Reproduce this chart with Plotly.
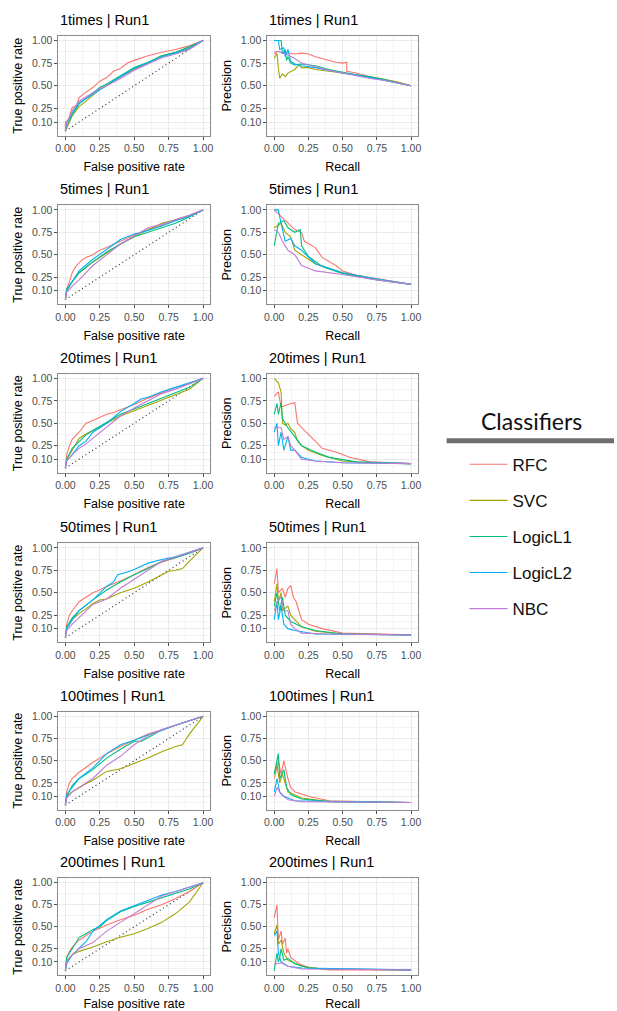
import plotly.graph_objects as go

W, H = 617, 1011

CLASSIFIERS = ["RFC", "SVC", "LogicL1", "LogicL2", "NBC"]
COLORS = ["#F8766D", "#A3A500", "#00BF7D", "#00B0F6", "#C07CD6"]
PANEL_TITLES = ["1times | Run1", "5times | Run1", "20times | Run1",
                "50times | Run1", "100times | Run1", "200times | Run1"]

TICK_VALS = [0, 0.25, 0.5, 0.75, 1.0]
TICK_TEXT = ["0.00", "0.25", "0.50", "0.75", "1.00"]
Y_TICK_VALS = [0.10, 0.25, 0.5, 0.75, 1.0]
Y_TICK_TEXT = ["0.10", "0.25", "0.50", "0.75", "1.00"]
X_MINOR = [0.125, 0.375, 0.625, 0.875]
Y_MINOR = [0.025, 0.175, 0.375, 0.625, 0.875]

# ---- ROC curves: (false positive rate, true positive rate) ----
ROC_1 = {
    "RFC": ([0, 0, 0.02, 0.05, 0.08, 0.1, 0.15, 0.2, 0.25, 0.3, 0.35, 0.4, 0.45, 0.5, 0.6, 0.7, 0.8, 0.9, 1],
            [0, 0.1, 0.12, 0.26, 0.28, 0.37, 0.43, 0.48, 0.55, 0.59, 0.66, 0.69, 0.75, 0.78, 0.83, 0.87, 0.9, 0.94, 1]),
    "SVC": ([0, 0.01, 0.03, 0.05, 0.1, 0.15, 0.2, 0.25, 0.3, 0.4, 0.5, 0.6, 0.7, 0.8, 0.9, 1],
            [0, 0.03, 0.1, 0.17, 0.27, 0.33, 0.4, 0.46, 0.5, 0.6, 0.68, 0.75, 0.83, 0.87, 0.92, 1]),
    "LogicL1": ([0, 0.01, 0.03, 0.05, 0.1, 0.15, 0.2, 0.25, 0.3, 0.4, 0.5, 0.6, 0.7, 0.8, 0.9, 1],
                [0, 0.06, 0.12, 0.18, 0.3, 0.36, 0.42, 0.48, 0.52, 0.61, 0.7, 0.76, 0.83, 0.87, 0.93, 1]),
    "LogicL2": ([0, 0.01, 0.03, 0.05, 0.1, 0.15, 0.2, 0.25, 0.3, 0.4, 0.5, 0.6, 0.7, 0.8, 0.9, 1],
                [0, 0.1, 0.14, 0.2, 0.31, 0.36, 0.41, 0.46, 0.51, 0.6, 0.69, 0.75, 0.82, 0.86, 0.91, 1]),
    "NBC": ([0, 0.01, 0.03, 0.05, 0.1, 0.15, 0.2, 0.25, 0.3, 0.4, 0.5, 0.6, 0.7, 0.8, 0.9, 1],
            [0, 0.1, 0.15, 0.22, 0.33, 0.38, 0.42, 0.47, 0.5, 0.58, 0.67, 0.74, 0.81, 0.85, 0.9, 1]),
}
ROC_5 = {
    "RFC": ([0, 0.01, 0.03, 0.05, 0.08, 0.12, 0.15, 0.2, 0.25, 0.3, 0.4, 0.5, 0.6, 0.7, 0.8, 0.9, 1],
            [0, 0.12, 0.2, 0.3, 0.38, 0.44, 0.47, 0.5, 0.55, 0.58, 0.65, 0.72, 0.78, 0.83, 0.89, 0.94, 1]),
    "SVC": ([0, 0.01, 0.05, 0.1, 0.2, 0.3, 0.4, 0.5, 0.6, 0.7, 0.8, 0.9, 1],
            [0, 0.1, 0.2, 0.3, 0.42, 0.52, 0.62, 0.7, 0.78, 0.85, 0.89, 0.93, 1]),
    "LogicL1": ([0, 0.01, 0.05, 0.1, 0.2, 0.3, 0.4, 0.5, 0.6, 0.7, 0.8, 0.9, 1],
                [0, 0.12, 0.2, 0.3, 0.42, 0.53, 0.62, 0.7, 0.75, 0.8, 0.85, 0.92, 1]),
    "LogicL2": ([0, 0.01, 0.05, 0.1, 0.2, 0.3, 0.4, 0.5, 0.6, 0.7, 0.8, 0.9, 1],
                [0, 0.1, 0.2, 0.32, 0.45, 0.56, 0.67, 0.73, 0.77, 0.82, 0.88, 0.93, 1]),
    "NBC": ([0, 0.01, 0.05, 0.1, 0.2, 0.3, 0.4, 0.5, 0.6, 0.7, 0.8, 0.9, 1],
            [0, 0.08, 0.15, 0.22, 0.38, 0.5, 0.62, 0.71, 0.8, 0.84, 0.89, 0.94, 1]),
}
ROC_20 = {
    "RFC": ([0, 0.01, 0.03, 0.05, 0.1, 0.15, 0.2, 0.3, 0.35, 0.4, 0.5, 0.6, 0.7, 0.8, 0.9, 1],
            [0, 0.15, 0.25, 0.32, 0.4, 0.5, 0.53, 0.6, 0.62, 0.65, 0.71, 0.78, 0.84, 0.9, 0.94, 1]),
    "SVC": ([0, 0.01, 0.05, 0.1, 0.15, 0.2, 0.3, 0.4, 0.5, 0.6, 0.7, 0.8, 0.9, 1],
            [0, 0.1, 0.2, 0.33, 0.38, 0.42, 0.5, 0.58, 0.64, 0.7, 0.76, 0.82, 0.88, 1]),
    "LogicL1": ([0, 0.01, 0.05, 0.1, 0.15, 0.2, 0.3, 0.4, 0.5, 0.6, 0.7, 0.8, 0.9, 1],
                [0, 0.1, 0.22, 0.3, 0.37, 0.42, 0.51, 0.6, 0.66, 0.72, 0.78, 0.84, 0.9, 1]),
    "LogicL2": ([0, 0.01, 0.05, 0.1, 0.15, 0.2, 0.3, 0.4, 0.5, 0.55, 0.6, 0.7, 0.8, 0.9, 1],
                [0, 0.08, 0.15, 0.25, 0.3, 0.4, 0.5, 0.63, 0.72, 0.77, 0.79, 0.85, 0.9, 0.95, 1]),
    "NBC": ([0, 0.01, 0.05, 0.1, 0.15, 0.2, 0.3, 0.4, 0.5, 0.6, 0.7, 0.8, 0.9, 1],
            [0, 0.08, 0.15, 0.22, 0.27, 0.33, 0.45, 0.58, 0.67, 0.75, 0.83, 0.88, 0.94, 1]),
}
ROC_50 = {
    "RFC": ([0, 0.01, 0.03, 0.05, 0.1, 0.15, 0.2, 0.25, 0.3, 0.4, 0.5, 0.6, 0.7, 0.8, 0.9, 1],
            [0, 0.15, 0.25, 0.3, 0.4, 0.45, 0.5, 0.53, 0.57, 0.63, 0.7, 0.78, 0.84, 0.89, 0.94, 1]),
    "SVC": ([0, 0.01, 0.05, 0.1, 0.15, 0.2, 0.25, 0.3, 0.4, 0.5, 0.6, 0.7, 0.75, 0.8, 0.85, 0.9, 1],
            [0, 0.1, 0.2, 0.27, 0.32, 0.38, 0.42, 0.43, 0.5, 0.55, 0.62, 0.7, 0.74, 0.75, 0.77, 0.85, 1]),
    "LogicL1": ([0, 0.01, 0.05, 0.1, 0.2, 0.3, 0.4, 0.5, 0.6, 0.7, 0.8, 0.9, 1],
                [0, 0.12, 0.22, 0.3, 0.42, 0.53, 0.62, 0.7, 0.77, 0.85, 0.89, 0.94, 1]),
    "LogicL2": ([0, 0.01, 0.05, 0.1, 0.2, 0.3, 0.35, 0.38, 0.45, 0.5, 0.6, 0.7, 0.8, 0.9, 1],
                [0, 0.1, 0.2, 0.3, 0.42, 0.57, 0.62, 0.7, 0.73, 0.76, 0.83, 0.87, 0.9, 0.95, 1]),
    "NBC": ([0, 0.01, 0.05, 0.1, 0.2, 0.3, 0.4, 0.5, 0.6, 0.7, 0.8, 0.9, 1],
            [0, 0.08, 0.15, 0.22, 0.37, 0.43, 0.55, 0.65, 0.75, 0.85, 0.9, 0.95, 1]),
}
ROC_100 = {
    "RFC": ([0, 0.01, 0.03, 0.05, 0.1, 0.15, 0.2, 0.3, 0.4, 0.5, 0.6, 0.7, 0.8, 0.9, 1],
            [0, 0.15, 0.25, 0.3, 0.37, 0.43, 0.48, 0.58, 0.66, 0.73, 0.8, 0.85, 0.9, 0.95, 1]),
    "SVC": ([0, 0.01, 0.05, 0.1, 0.15, 0.2, 0.25, 0.3, 0.4, 0.5, 0.6, 0.7, 0.8, 0.85, 0.9, 1],
            [0, 0.1, 0.15, 0.2, 0.24, 0.28, 0.33, 0.38, 0.41, 0.47, 0.53, 0.6, 0.66, 0.68, 0.8, 1]),
    "LogicL1": ([0, 0.01, 0.05, 0.1, 0.2, 0.3, 0.4, 0.5, 0.55, 0.6, 0.7, 0.8, 0.9, 1],
                [0, 0.1, 0.22, 0.3, 0.4, 0.53, 0.63, 0.72, 0.72, 0.76, 0.85, 0.9, 0.95, 1]),
    "LogicL2": ([0, 0.01, 0.05, 0.1, 0.2, 0.3, 0.4, 0.5, 0.6, 0.7, 0.8, 0.9, 1],
                [0, 0.12, 0.2, 0.3, 0.42, 0.58, 0.68, 0.73, 0.79, 0.84, 0.9, 0.95, 1]),
    "NBC": ([0, 0.01, 0.05, 0.1, 0.2, 0.3, 0.4, 0.5, 0.6, 0.7, 0.8, 0.9, 1],
            [0, 0.08, 0.15, 0.2, 0.3, 0.45, 0.55, 0.68, 0.78, 0.85, 0.9, 0.95, 1]),
}
ROC_200 = {
    "RFC": ([0, 0.01, 0.03, 0.05, 0.1, 0.2, 0.3, 0.4, 0.5, 0.6, 0.7, 0.8, 0.9, 1],
            [0, 0.15, 0.22, 0.27, 0.35, 0.45, 0.52, 0.58, 0.63, 0.7, 0.75, 0.82, 0.9, 1]),
    "SVC": ([0, 0.01, 0.05, 0.1, 0.2, 0.3, 0.4, 0.5, 0.6, 0.7, 0.8, 0.9, 1],
            [0, 0.12, 0.18, 0.22, 0.27, 0.33, 0.38, 0.42, 0.48, 0.55, 0.65, 0.78, 1]),
    "LogicL1": ([0, 0.01, 0.05, 0.1, 0.15, 0.2, 0.25, 0.3, 0.4, 0.5, 0.6, 0.7, 0.8, 0.9, 1],
                [0, 0.15, 0.25, 0.38, 0.42, 0.47, 0.5, 0.57, 0.67, 0.73, 0.78, 0.83, 0.88, 0.93, 1]),
    "LogicL2": ([0, 0.01, 0.05, 0.1, 0.15, 0.2, 0.25, 0.3, 0.4, 0.5, 0.6, 0.7, 0.8, 0.9, 1],
                [0, 0.08, 0.18, 0.25, 0.33, 0.45, 0.52, 0.58, 0.68, 0.74, 0.8, 0.86, 0.9, 0.95, 1]),
    "NBC": ([0, 0.01, 0.05, 0.1, 0.2, 0.3, 0.4, 0.5, 0.6, 0.7, 0.8, 0.9, 1],
            [0, 0.1, 0.18, 0.25, 0.32, 0.45, 0.55, 0.65, 0.75, 0.85, 0.9, 0.95, 1]),
}

# ---- Precision-recall curves: (recall, precision) ----
PR_1 = {
    "RFC": ([0, 0.02, 0.05, 0.1, 0.15, 0.2, 0.25, 0.3, 0.35, 0.4, 0.45, 0.5, 0.53, 0.53, 0.6, 0.7, 0.8, 0.9, 1],
            [0.85, 0.88, 0.87, 0.86, 0.85, 0.86, 0.85, 0.82, 0.8, 0.78, 0.76, 0.75, 0.76, 0.66, 0.64, 0.6, 0.57, 0.54, 0.5]),
    "SVC": ([0, 0.02, 0.03, 0.04, 0.06, 0.08, 0.1, 0.15, 0.18, 0.2, 0.25, 0.3, 0.4, 0.5, 0.6, 0.7, 0.8, 0.9, 1],
            [0.8, 0.86, 0.7, 0.58, 0.63, 0.6, 0.64, 0.68, 0.73, 0.7, 0.7, 0.68, 0.66, 0.64, 0.62, 0.6, 0.57, 0.54, 0.5]),
    "LogicL1": ([0, 0.05, 0.06, 0.08, 0.09, 0.1, 0.12, 0.15, 0.2, 0.3, 0.4, 0.5, 0.6, 0.7, 0.8, 0.9, 1],
                [1.0, 1.0, 0.85, 0.9, 0.78, 0.82, 0.75, 0.73, 0.74, 0.72, 0.68, 0.65, 0.62, 0.6, 0.57, 0.53, 0.5]),
    "LogicL2": ([0, 0.03, 0.04, 0.07, 0.08, 0.1, 0.12, 0.15, 0.2, 0.3, 0.4, 0.5, 0.6, 0.7, 0.8, 0.9, 1],
                [1.0, 1.0, 0.9, 0.92, 0.82, 0.9, 0.77, 0.74, 0.72, 0.7, 0.67, 0.64, 0.62, 0.59, 0.56, 0.53, 0.5]),
    "NBC": ([0, 0.03, 0.06, 0.1, 0.15, 0.2, 0.3, 0.4, 0.5, 0.6, 0.7, 0.8, 0.9, 1],
            [0.87, 0.88, 0.86, 0.84, 0.8, 0.75, 0.71, 0.67, 0.64, 0.61, 0.58, 0.56, 0.53, 0.5]),
}
PR_5 = {
    "RFC": ([0, 0.05, 0.1, 0.15, 0.2, 0.22, 0.3, 0.35, 0.45, 0.5, 0.6, 0.75, 1],
            [1.0, 0.93, 0.85, 0.78, 0.75, 0.65, 0.58, 0.47, 0.38, 0.32, 0.27, 0.23, 0.17]),
    "SVC": ([0, 0.05, 0.08, 0.12, 0.15, 0.2, 0.3, 0.5, 0.75, 1],
            [0.8, 0.85, 0.75, 0.7, 0.55, 0.5, 0.4, 0.3, 0.23, 0.17]),
    "LogicL1": ([0, 0.03, 0.07, 0.1, 0.15, 0.19, 0.2, 0.25, 0.35, 0.5, 0.75, 1],
                [0.6, 0.85, 0.88, 0.8, 0.75, 0.78, 0.6, 0.48, 0.37, 0.29, 0.22, 0.17]),
    "LogicL2": ([0, 0.03, 0.05, 0.08, 0.12, 0.15, 0.2, 0.3, 0.5, 0.75, 1],
                [1.0, 1.0, 0.85, 0.65, 0.68, 0.6, 0.55, 0.4, 0.3, 0.23, 0.17]),
    "NBC": ([0, 0.03, 0.06, 0.1, 0.15, 0.2, 0.3, 0.5, 0.75, 1],
            [0.78, 0.75, 0.65, 0.55, 0.5, 0.38, 0.32, 0.28, 0.22, 0.17]),
}
PR_20 = {
    "RFC": ([0, 0.03, 0.05, 0.08, 0.12, 0.15, 0.16, 0.17, 0.2, 0.25, 0.3, 0.35, 0.45, 0.55, 0.7, 1],
            [0.8, 0.85, 0.68, 0.7, 0.72, 0.73, 0.6, 0.5, 0.45, 0.38, 0.3, 0.22, 0.18, 0.12, 0.07, 0.05]),
    "SVC": ([0, 0.03, 0.05, 0.06, 0.08, 0.1, 0.12, 0.15, 0.17, 0.2, 0.25, 0.35, 0.5, 0.7, 1],
            [1.0, 0.95, 0.85, 0.5, 0.48, 0.5, 0.44, 0.4, 0.3, 0.25, 0.2, 0.14, 0.08, 0.06, 0.05]),
    "LogicL1": ([0, 0.02, 0.03, 0.05, 0.06, 0.1, 0.15, 0.2, 0.3, 0.4, 0.6, 1],
                [0.6, 0.72, 0.6, 0.73, 0.55, 0.45, 0.35, 0.25, 0.18, 0.12, 0.07, 0.05]),
    "LogicL2": ([0, 0.02, 0.03, 0.05, 0.07, 0.1, 0.12, 0.15, 0.2, 0.3, 0.5, 1],
                [0.4, 0.5, 0.25, 0.4, 0.2, 0.35, 0.2, 0.2, 0.12, 0.08, 0.06, 0.05]),
    "NBC": ([0, 0.05, 0.07, 0.1, 0.12, 0.15, 0.2, 0.3, 0.5, 1],
            [0.45, 0.45, 0.32, 0.35, 0.25, 0.2, 0.1, 0.08, 0.06, 0.05]),
}
PR_50 = {
    "RFC": ([0, 0.02, 0.03, 0.06, 0.08, 0.1, 0.12, 0.14, 0.16, 0.18, 0.2, 0.25, 0.35, 0.5, 1],
            [0.6, 0.77, 0.5, 0.55, 0.45, 0.55, 0.58, 0.45, 0.4, 0.3, 0.2, 0.15, 0.1, 0.05, 0.03]),
    "SVC": ([0, 0.02, 0.03, 0.05, 0.06, 0.1, 0.12, 0.15, 0.2, 0.3, 0.5, 1],
            [0.4, 0.6, 0.4, 0.5, 0.3, 0.35, 0.25, 0.2, 0.12, 0.07, 0.04, 0.03]),
    "LogicL1": ([0, 0.02, 0.04, 0.06, 0.08, 0.12, 0.2, 0.3, 0.5, 1],
                [0.35, 0.5, 0.3, 0.45, 0.25, 0.18, 0.12, 0.08, 0.04, 0.03]),
    "LogicL2": ([0, 0.02, 0.03, 0.05, 0.07, 0.1, 0.15, 0.3, 1],
                [0.2, 0.4, 0.2, 0.35, 0.15, 0.1, 0.08, 0.04, 0.03]),
    "NBC": ([0, 0.02, 0.05, 0.07, 0.1, 0.12, 0.15, 0.2, 0.4, 1],
            [0.3, 0.4, 0.45, 0.3, 0.3, 0.15, 0.1, 0.05, 0.04, 0.03]),
}
PR_100 = {
    "RFC": ([0, 0.03, 0.05, 0.07, 0.1, 0.12, 0.15, 0.25, 0.4, 1],
            [0.3, 0.5, 0.35, 0.5, 0.3, 0.2, 0.15, 0.1, 0.05, 0.03]),
    "SVC": ([0, 0.02, 0.04, 0.06, 0.1, 0.2, 0.4, 1],
            [0.35, 0.45, 0.25, 0.35, 0.15, 0.08, 0.04, 0.03]),
    "LogicL1": ([0, 0.03, 0.04, 0.07, 0.09, 0.12, 0.2, 0.4, 1],
                [0.35, 0.58, 0.3, 0.4, 0.2, 0.12, 0.07, 0.04, 0.03]),
    "LogicL2": ([0, 0.02, 0.04, 0.07, 0.15, 1],
                [0.15, 0.3, 0.15, 0.1, 0.05, 0.03]),
    "NBC": ([0, 0.02, 0.05, 0.1, 0.2, 1],
            [0.1, 0.2, 0.12, 0.06, 0.04, 0.03]),
}
PR_200 = {
    "RFC": ([0, 0.02, 0.03, 0.05, 0.06, 0.08, 0.09, 0.1, 0.12, 0.18, 0.25, 0.4, 1],
            [0.6, 0.75, 0.35, 0.45, 0.3, 0.37, 0.2, 0.25, 0.15, 0.08, 0.04, 0.01, 0.01]),
    "SVC": ([0, 0.02, 0.03, 0.05, 0.07, 0.1, 0.2, 0.35, 1],
            [0.42, 0.52, 0.3, 0.35, 0.2, 0.12, 0.05, 0.02, 0.01]),
    "LogicL1": ([0, 0.02, 0.03, 0.04, 0.05, 0.07, 0.1, 0.15, 0.25, 0.4, 1],
                [0.0, 0.2, 0.1, 0.15, 0.25, 0.12, 0.14, 0.08, 0.03, 0.02, 0.01]),
    "LogicL2": ([0, 0.02, 0.03, 0.05, 0.1, 0.2, 1],
                [0.4, 0.45, 0.2, 0.1, 0.05, 0.03, 0.01]),
    "NBC": ([0, 0.02, 0.05, 0.1, 0.2, 1],
            [0.08, 0.08, 0.09, 0.05, 0.02, 0.01]),
}

ROC_PANELS = [ROC_1, ROC_5, ROC_20, ROC_50, ROC_100, ROC_200]
PR_PANELS = [PR_1, PR_5, PR_20, PR_50, PR_100, PR_200]

# panel boxes in pixels (top, bottom) per row; (left, right) per column
ROW_BOXES = [(34, 134), (204, 303), (373, 472), (543, 642), (712, 810), (879, 976)]
COL_BOXES = [(56, 209), (267, 419)]

FONT = "Liberation Sans"


def px_x(v):
    return v / W


def px_y(v):
    return 1 - v / H


fig = go.Figure()
layout = {}
annotations = []

axis_common = dict(
    range=[-0.05, 1.05],
    showgrid=True, gridcolor="#EBEBEB", gridwidth=1,
    zeroline=False,
    showline=True, mirror=True, linecolor="#8A8A8A", linewidth=1,
    ticks="outside", ticklen=3, tickwidth=1, tickcolor="#4D4D4D",
    tickfont=dict(family=FONT, size=10.5, color="#4D4D4D"),
    fixedrange=True,
)

idx = 0
for r in range(6):
    for c in range(2):
        idx += 1
        xa = "xaxis" if idx == 1 else f"xaxis{idx}"
        ya = "yaxis" if idx == 1 else f"yaxis{idx}"
        xref = "x" if idx == 1 else f"x{idx}"
        yref = "y" if idx == 1 else f"y{idx}"
        top, bot = ROW_BOXES[r]
        left, right = COL_BOXES[c]
        xtitle = "False positive rate" if c == 0 else "Recall"
        ytitle = "True positive rate" if c == 0 else "Precision"
        layout[xa] = dict(
            axis_common, domain=[px_x(left), px_x(right)], anchor=yref,
            tickvals=TICK_VALS, ticktext=TICK_TEXT,
            minor=dict(tickvals=X_MINOR, showgrid=True, gridcolor="#F3F3F3", gridwidth=0.6),
            title=dict(text=xtitle, standoff=9,
                       font=dict(family=FONT, size=12.5, color="#000000")),
        )
        layout[ya] = dict(
            axis_common, domain=[px_y(bot), px_y(top)], anchor=xref,
            tickvals=Y_TICK_VALS, ticktext=Y_TICK_TEXT,
            minor=dict(tickvals=Y_MINOR, showgrid=True, gridcolor="#F3F3F3", gridwidth=0.6),
            title=dict(text=ytitle, standoff=6,
                       font=dict(family=FONT, size=12.5, color="#000000")),
        )
        annotations.append(dict(
            text=PANEL_TITLES[r], xref="paper", yref="paper",
            x=px_x(left), y=px_y(top), xanchor="left", yanchor="bottom", yshift=6,
            showarrow=False,
            font=dict(family=FONT, size=14.5, color="#000000"),
        ))

        data = ROC_PANELS[r] if c == 0 else PR_PANELS[r]
        if c == 0:
            fig.add_trace(go.Scatter(
                x=[0, 1], y=[0, 1], mode="lines", xaxis=xref, yaxis=yref,
                line=dict(color="#333333", width=1.2, dash="1px,3px"),
                showlegend=False, hoverinfo="skip",
            ))
        for name, color in zip(CLASSIFIERS, COLORS):
            xs, ys = data[name]
            fig.add_trace(go.Scatter(
                x=xs, y=ys, mode="lines", name=name, xaxis=xref, yaxis=yref,
                line=dict(color=color, width=1.1),
                legendgroup=name, showlegend=(idx == 1),
            ))

# legend heading and its underline
annotations.append(dict(
    text="Classifiers", xref="paper", yref="paper",
    x=px_x(534), y=px_y(420), xanchor="center", yanchor="middle",
    showarrow=False, font=dict(family="Lato, Open Sans", size=23, color="#111111"),
))
shapes = [dict(
    type="line", xref="paper", yref="paper",
    x0=px_x(448), x1=1.0, y0=px_y(440), y1=px_y(440),
    line=dict(color="#6E6E6E", width=5),
)]

fig.update_layout(
    **layout,
    annotations=annotations,
    shapes=shapes,
    width=W, height=H,
    margin=dict(l=0, r=0, t=0, b=0),
    paper_bgcolor="white", plot_bgcolor="white",
    showlegend=True,
    legend=dict(
        x=px_x(466), y=px_y(446), xanchor="left", yanchor="top",
        font=dict(family=FONT, size=17, color="#111111"),
        tracegroupgap=11, itemwidth=38, bgcolor="rgba(0,0,0,0)",
    ),
)

fig.write_html("out.html")
